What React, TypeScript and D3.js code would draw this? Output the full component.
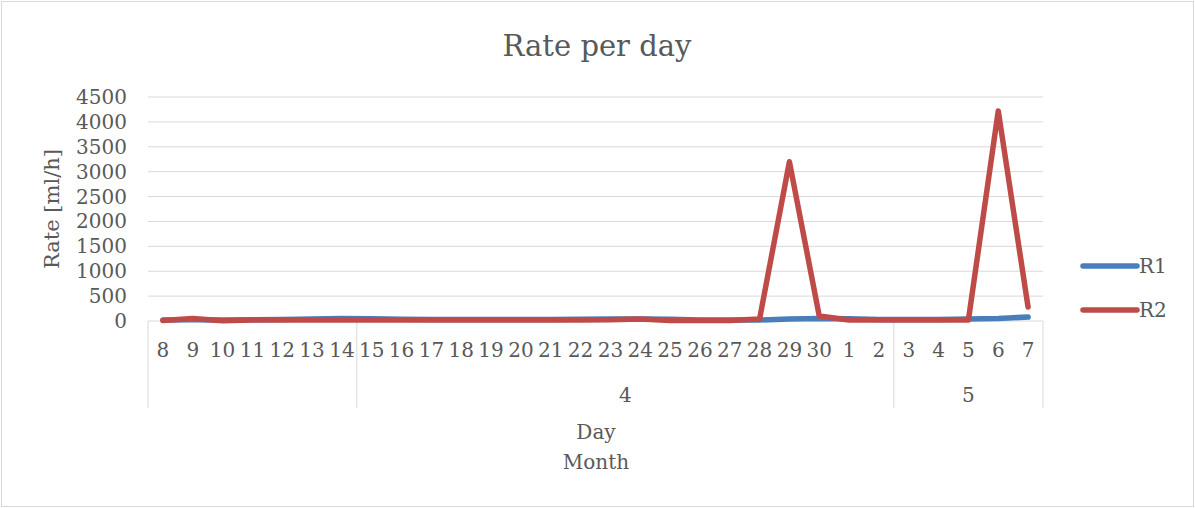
import React from "react";
import * as d3 from "d3";

const WIDTH = 1195;
const HEIGHT = 508;

const days = [
  "8", "9", "10", "11", "12", "13", "14", "15", "16", "17", "18", "19", "20", "21", "22",
  "23", "24", "25", "26", "27", "28", "29", "30", "1", "2", "3", "4", "5", "6", "7",
];
const months = ["", "4", "5"];
const monthSpans = [7, 18, 5];
const r1 = [20, 25, 20, 25, 30, 40, 50, 45, 35, 30, 30, 30, 30, 30, 35, 40, 40, 35, 20, 20, 20, 40, 50, 45, 30, 30, 30, 40, 50, 80];
const r2 = [10, 50, 5, 20, 20, 20, 20, 20, 20, 20, 20, 20, 20, 20, 20, 25, 40, 10, 10, 10, 40, 3200, 100, 20, 20, 20, 20, 20, 4220, 280];
const yTicks = [0, 500, 1000, 1500, 2000, 2500, 3000, 3500, 4000, 4500];

const series = [
  { name: "R1", values: r1, color: "#4A7EBB" },
  { name: "R2", values: r2, color: "#BE4B48" },
];

const FONT = "'DejaVu Serif', serif";
const TEXT = "#595959";
const GRID = "#d9d9d9";

export default function App() {
  const left = 148;
  const right = 1043;
  const top = 97;
  const bottom = 321;
  const axisBottom = 408;

  const x = d3
    .scaleBand<number>()
    .domain(days.map((_, i) => i))
    .range([left, right]);
  const cx = (i: number) => (x(i) as number) + x.bandwidth() / 2;
  const y = d3.scaleLinear().domain([0, 4500]).range([bottom, top]);

  const line = d3
    .line<number>()
    .x((_, i) => cx(i))
    .y((d) => y(d));

  // month group boundaries
  let acc = 0;
  const groups = months.map((m, gi) => {
    const start = acc;
    acc += monthSpans[gi];
    return { label: m, start, end: acc };
  });
  const edge = (i: number) => (i >= days.length ? right : (x(i) as number));

  return (
    <svg width={WIDTH} height={HEIGHT} style={{ position: "absolute", left: 0, top: 0 }}>
      <rect x={1.5} y={1.5} width={WIDTH - 3} height={HEIGHT - 3} fill="#fff" stroke={GRID} />
      <text x={597} y={46} textAnchor="middle" dominantBaseline="central" fontFamily={FONT} fontSize={29} fill={TEXT}>
        Rate per day
      </text>

      {yTicks.map((t) => (
        <g key={t}>
          <line x1={left} x2={right} y1={y(t)} y2={y(t)} stroke={GRID} strokeWidth={1} />
          <text x={127} y={y(t)} textAnchor="end" dominantBaseline="central" fontFamily={FONT} fontSize={20} fill={TEXT}>
            {t}
          </text>
        </g>
      ))}

      <text
        transform={`translate(52,${(top + bottom) / 2}) rotate(-90)`}
        textAnchor="middle"
        dominantBaseline="central"
        fontFamily={FONT}
        fontSize={21}
        fill={TEXT}
      >
        Rate [ml/h]
      </text>

      {groups.map((g) => (
        <g key={g.start}>
          <line x1={edge(g.start)} x2={edge(g.start)} y1={bottom} y2={axisBottom} stroke={GRID} />
          <text
            x={(edge(g.start) + edge(g.end)) / 2}
            y={395}
            textAnchor="middle"
            dominantBaseline="central"
            fontFamily={FONT}
            fontSize={20}
            fill={TEXT}
          >
            {g.label}
          </text>
        </g>
      ))}
      <line x1={right} x2={right} y1={bottom} y2={axisBottom} stroke={GRID} />

      {days.map((d, i) => (
        <text key={i} x={cx(i)} y={350} textAnchor="middle" dominantBaseline="central" fontFamily={FONT} fontSize={20} fill={TEXT}>
          {d}
        </text>
      ))}

      <text x={596} y={432} textAnchor="middle" dominantBaseline="central" fontFamily={FONT} fontSize={20} fill={TEXT}>
        Day
      </text>
      <text x={596} y={462} textAnchor="middle" dominantBaseline="central" fontFamily={FONT} fontSize={20} fill={TEXT}>
        Month
      </text>

      {series.map((s) => (
        <path
          key={s.name}
          d={line(s.values) || ""}
          fill="none"
          stroke={s.color}
          strokeWidth={5.5}
          strokeLinejoin="round"
          strokeLinecap="round"
        />
      ))}

      {series.map((s, i) => (
        <g key={s.name} transform={`translate(1083,${266 + i * 44})`}>
          <line x1={0} x2={54} y1={0} y2={0} stroke={s.color} strokeWidth={5.5} strokeLinecap="round" />
          <text x={56} y={0} dominantBaseline="central" fontFamily={FONT} fontSize={20} fill={TEXT}>
            {s.name}
          </text>
        </g>
      ))}
    </svg>
  );
}
